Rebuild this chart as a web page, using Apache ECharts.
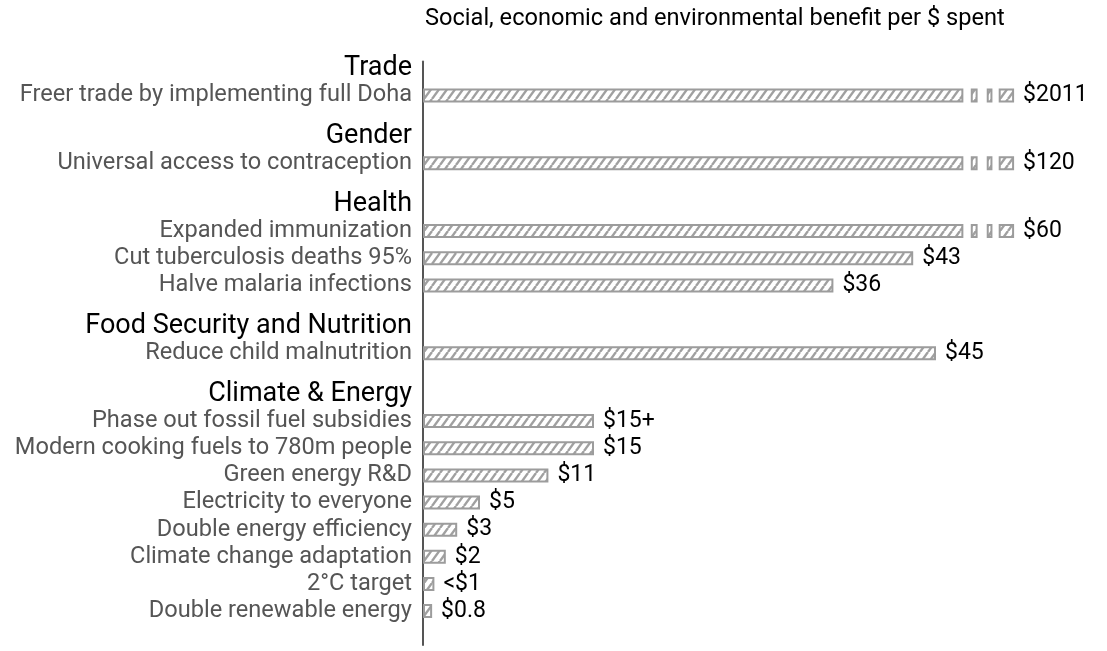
<!DOCTYPE html>
<html><head><meta charset="utf-8">
<script src="https://cdn.jsdelivr.net/npm/echarts@6/dist/echarts.min.js"></script>
<style>html,body{margin:0;padding:0;background:#fff}#c{width:1107px;height:651px}</style>
</head><body><div id="c"></div>
<script>
// ---- data ----
const title = 'Social, economic and environmental benefit per $ spent';
const groups = ['Trade', 'Gender', 'Health', 'Food Security and Nutrition', 'Climate & Energy'];
const items = ['Freer trade by implementing full Doha', 'Universal access to contraception',
  'Expanded immunization', 'Cut tuberculosis deaths 95%', 'Halve malaria infections',
  'Reduce child malnutrition',
  'Phase out fossil fuel subsidies', 'Modern cooking fuels to 780m people', 'Green energy R&D',
  'Electricity to everyone', 'Double energy efficiency', 'Climate change adaptation',
  '2°C target', 'Double renewable energy'];
const itemGroup = [0, 1, 2, 2, 2, 3, 4, 4, 4, 4, 4, 4, 4, 4];
const values = [2011, 120, 60, 43, 36, 45, 15, 15, 11, 5, 3, 2, 1, 0.8];
const valueLabels = ['$2011', '$120', '$60', '$43', '$36', '$45', '$15+', '$15', '$11', '$5', '$3', '$2', '<$1', '$0.8'];
const breakAt = 47.4;                               // values above this are drawn as broken bars
const breakPieces = [0.65, 0.6, 0.8, 0.5, 0.55, 1.35]; // gap, piece, gap, piece, gap, piece

// ---- rows (headers, items, spacers) ----
const rows = [];
groups.forEach((g, gi) => {
  rows.push({type: 'h', text: g});
  rows.push({type: 'b'});
  items.forEach((it, ii) => {
    if (itemGroup[ii] === gi) { rows.push({type: 'i', text: it, idx: ii}); rows.push({type: 'b'}); }
  });
  rows.push({type: 'b'});
});

// ---- hatch pattern ----
function hatch() {
  const w = 8, h = 11;
  const cv = document.createElement('canvas');
  cv.width = w; cv.height = h;
  const ctx = cv.getContext('2d');
  ctx.fillStyle = '#fff'; ctx.fillRect(0, 0, w, h);
  ctx.strokeStyle = '#a0a0a0'; ctx.lineWidth = 2.4;
  for (const off of [-w, 0, w]) {
    ctx.beginPath(); ctx.moveTo(off, h); ctx.lineTo(off + w, 0); ctx.stroke();
  }
  return {image: cv, repeat: 'repeat'};
}
const pat = hatch();
const barStyle = {color: pat, borderColor: '#9c9c9c', borderWidth: 2};
const lblStyle = {show: true, position: 'right', distance: 9, fontSize: 23, color: '#000', fontFamily: 'Roboto'};

const mainData = rows.map(r => {
  if (r.type !== 'i') return '-';
  const v = values[r.idx];
  const broken = v > breakAt;
  const d = {value: Math.min(v, breakAt)};
  if (!broken) d.label = Object.assign({}, lblStyle, {formatter: valueLabels[r.idx]});
  return d;
});

const series = [{
  type: 'bar', stack: 's', barWidth: 14, itemStyle: barStyle, data: mainData, silent: true
}];
breakPieces.forEach((p, k) => {
  const isGap = k % 2 === 0;
  const last = k === breakPieces.length - 1;
  series.push({
    type: 'bar', stack: 's', barWidth: 14, silent: true,
    itemStyle: isGap ? {color: 'rgba(0,0,0,0)', borderWidth: 0} : barStyle,
    data: rows.map(r => {
      if (r.type !== 'i' || values[r.idx] <= breakAt) return '-';
      const d = {value: p};
      if (last) d.label = Object.assign({}, lblStyle, {formatter: valueLabels[r.idx]});
      return d;
    })
  });
});

const chart = echarts.init(document.getElementById('c'));
chart.setOption({
  animation: false,
  textStyle: {fontFamily: 'Roboto'},
  title: {text: title, left: 425, top: 7, padding: 0, textStyle: {fontSize: 23.6, fontWeight: 'normal', color: '#000', fontFamily: 'Roboto'}},
  grid: {left: 423, right: 0, top: 61.5, bottom: 6},
  xAxis: {type: 'value', min: 0, max: 60, show: false},
  yAxis: {
    type: 'category', inverse: true,
    data: rows.map((r, i) => 'r' + i),
    axisTick: {show: false},
    axisLine: {lineStyle: {color: '#555', width: 2}},
    axisLabel: {
      interval: 0, margin: 11,
      formatter: (v, i) => {
        const r = rows[i];
        if (!r) return '';
        if (r.type === 'h') return '{h|' + r.text + '}';
        if (r.type === 'i') return '{i|' + r.text + '}';
        return '';
      },
      rich: {
        h: {fontSize: 27, color: '#000', fontFamily: 'Roboto'},
        i: {fontSize: 23.6, color: '#555', fontFamily: 'Roboto'}
      }
    }
  },
  series: series
});
</script>
</body></html>
